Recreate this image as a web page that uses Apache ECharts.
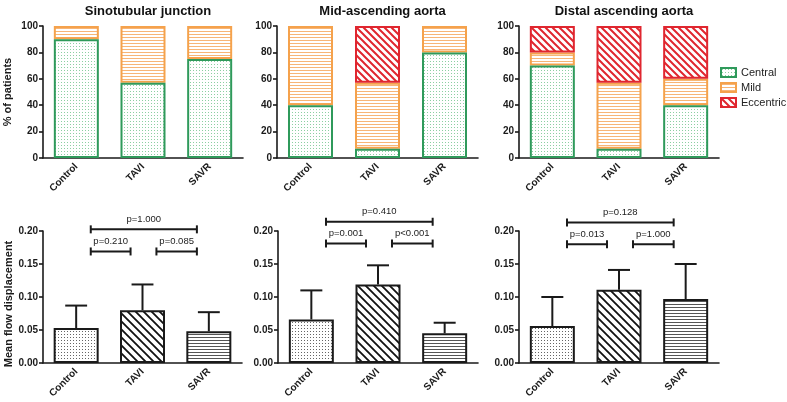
<!DOCTYPE html>
<html><head><meta charset="utf-8">
<script src="https://cdn.jsdelivr.net/npm/echarts@6/dist/echarts.min.js"></script>
<style>html,body{margin:0;padding:0;background:#fff}#c{width:787px;height:402px}</style>
</head><body><div id="c"></div>
<script>
// ---------- data ----------
const categories = ['Control', 'TAVI', 'SAVR'];
const panelTitles = ['Sinotubular junction', 'Mid-ascending aorta', 'Distal ascending aorta'];
const flowTypes = ['Central', 'Mild', 'Eccentric'];
// % of patients (per panel: Control, TAVI, SAVR)
const centralPct = [[90, 57, 75], [40, 7, 80], [70, 7, 40]];
const mildPct = [[10, 43, 25], [60, 50, 20], [10, 50, 20]];
const eccentricPct = [[0, 0, 0], [0, 43, 0], [20, 43, 40]];
const pctTicks = [0, 20, 40, 60, 80, 100];
// mean flow displacement (per panel: Control, TAVI, SAVR)
const meanDisp = [[0.053, 0.080, 0.048], [0.066, 0.119, 0.045], [0.056, 0.111, 0.097]];
const sdDisp = [[0.034, 0.039, 0.029], [0.044, 0.029, 0.016], [0.044, 0.030, 0.053]];
const dispTicks = [0, 0.05, 0.10, 0.15, 0.20];
// significance annotations: [Control-SAVR, Control-TAVI, TAVI-SAVR]
const pValues = [['p=1.000', 'p=0.210', 'p=0.085'], ['p=0.410', 'p=0.001', 'p<0.001'], ['p=0.128', 'p=0.013', 'p=1.000']];
const bracketFrom = [0.22, 0.22, 1.21];
const bracketTo = [1.82, 0.82, 1.82];
const bracketLevel = [[0.2025, 0.169, 0.169], [0.214, 0.181, 0.181], [0.213, 0.180, 0.180]];

// ---------- styling ----------
const FONT = '"Liberation Sans", Arial, sans-serif';
const INK = '#1a1a1a';
const GREEN = '#2f9a5b', ORANGE = '#f5a24c', RED = '#e0262f';

function pattern(kind, color, opts) {
  opts = opts || {};
  const c = document.createElement('canvas');
  const ctx = c.getContext('2d');
  if (kind === 'dots') {
    c.width = opts.w || 3; c.height = opts.h || 3;
    ctx.fillStyle = '#fff'; ctx.fillRect(0, 0, c.width, c.height);
    ctx.fillStyle = color; ctx.fillRect(1, 1, 1, 1);
  } else if (kind === 'hlines') {
    c.width = 4; c.height = opts.h || 3;
    ctx.fillStyle = '#fff'; ctx.fillRect(0, 0, c.width, c.height);
    ctx.fillStyle = color; ctx.fillRect(0, 1, 4, 1);
  } else {
    const s = opts.s || 7;
    c.width = s; c.height = s;
    ctx.fillStyle = '#fff'; ctx.fillRect(0, 0, s, s);
    ctx.strokeStyle = color; ctx.lineWidth = opts.lw || 2;
    ctx.beginPath();
    for (let k = -1; k <= 1; k++) {
      ctx.moveTo(k * s - 1, -1);
      ctx.lineTo(k * s + s + 1, s + 1);
    }
    ctx.stroke();
  }
  return { image: c, repeat: 'repeat' };
}

const topStyles = {
  Central: { fill: pattern('dots', '#8ccfa2'), border: GREEN, z: 4 },
  Mild: { fill: pattern('hlines', '#f7b577'), border: ORANGE, z: 2 },
  Eccentric: { fill: pattern('diag', RED, { s: 7, lw: 2 }), border: RED, z: 3 }
};
const topData = { Central: centralPct, Mild: mildPct, Eccentric: eccentricPct };
const bottomFills = [
  pattern('dots', '#666'),
  pattern('diag', '#111', { s: 8, lw: 1.8 }),
  pattern('hlines', '#555')
];

const topGrids = [
  { left: 43, top: 26, width: 200, height: 132 },
  { left: 277, top: 26, width: 201, height: 132 },
  { left: 519, top: 26, width: 200, height: 132 }
];
const bottomGrids = [
  { left: 43, top: 231, width: 199, height: 132 },
  { left: 278, top: 231, width: 200, height: 132 },
  { left: 519, top: 231, width: 200, height: 132 }
];

const grids = topGrids.concat(bottomGrids);
const xAxes = [], yAxes = [], series = [];

grids.forEach((g, i) => {
  xAxes.push({
    type: 'category', gridIndex: i, data: categories,
    axisLine: { lineStyle: { color: INK, width: 1.6 } },
    axisTick: { alignWithLabel: true, length: 4, lineStyle: { color: INK, width: 1.6 } },
    axisLabel: { rotate: 45, fontWeight: 'bold', fontSize: 10, color: INK, fontFamily: FONT, margin: 7 }
  });
  const isTop = i < 3;
  const ticks = isTop ? pctTicks : dispTicks;
  const y = {
    type: 'value', gridIndex: i,
    min: ticks[0], max: ticks[ticks.length - 1], interval: ticks[1] - ticks[0],
    axisLine: { show: true, lineStyle: { color: INK, width: 1.6 } },
    axisTick: { show: true, length: 4, lineStyle: { color: INK, width: 1.6 } },
    splitLine: { show: false },
    axisLabel: {
      fontWeight: 'bold', fontSize: 10, color: INK, fontFamily: FONT, margin: 5,
      formatter: isTop ? (v => String(v)) : (v => v.toFixed(2))
    }
  };
  if (i === 0) {
    y.name = '% of patients';
    y.nameLocation = 'middle';
    y.nameGap = 30;
    y.nameTextStyle = { fontWeight: 'bold', fontSize: 11, color: INK, fontFamily: FONT };
  } else if (i === 3) {
    y.name = 'Mean flow displacement';
    y.nameLocation = 'middle';
    y.nameGap = 27;
    y.nameTextStyle = { fontWeight: 'bold', fontSize: 11, color: INK, fontFamily: FONT, padding: [0, 14, 0, 0] };
  }
  yAxes.push(y);
});

// top stacked bars
for (let p = 0; p < 3; p++) {
  flowTypes.forEach(name => {
    const st = topStyles[name];
    series.push({
      type: 'bar', name, xAxisIndex: p, yAxisIndex: p, stack: 'pct' + p,
      barWidth: 45, z: st.z, silent: true,
      itemStyle: { color: st.fill, borderColor: st.border, borderWidth: 2 },
      data: topData[name][p].map(v => (v > 0 ? v : '-'))
    });
  });
}

// bottom bars + error bars + brackets
for (let p = 0; p < 3; p++) {
  const ax = 3 + p;
  series.push({
    type: 'bar', name: 'disp' + p, xAxisIndex: ax, yAxisIndex: ax, barWidth: 45, silent: true,
    itemStyle: { borderColor: INK, borderWidth: 2 },
    data: meanDisp[p].map((v, i) => ({ value: v, itemStyle: { color: bottomFills[i] } }))
  });
  series.push({
    type: 'custom', name: 'err' + p, xAxisIndex: ax, yAxisIndex: ax, z: 5, silent: true,
    encode: { x: 0, y: [1, 2] },
    data: meanDisp[p].map((v, i) => [i, v, v + sdDisp[p][i]]),
    renderItem(params, api) {
      const x = api.value(0);
      const b = api.coord([x, api.value(1)]);
      const t = api.coord([x, api.value(2)]);
      const hw = api.size([1, 0])[0] * 0.165;
      const ls = { stroke: INK, lineWidth: 2 };
      return {
        type: 'group', children: [
          { type: 'line', shape: { x1: b[0], y1: b[1], x2: t[0], y2: t[1] }, style: ls },
          { type: 'line', shape: { x1: t[0] - hw, y1: t[1], x2: t[0] + hw, y2: t[1] }, style: ls }
        ]
      };
    }
  });
  series.push({
    type: 'custom', name: 'sig' + p, xAxisIndex: ax, yAxisIndex: ax, z: 5, silent: true, clip: false,
    encode: { x: 0, y: 1 },
    data: bracketLevel[p].map(v => [0, v]),
    renderItem(params, api) {
      const k = params.dataIndex;
      const yv = api.value(1);
      const c0 = api.coord([0, yv]);
      const c1 = api.coord([1, yv]);
      const step = c1[0] - c0[0];
      const xa = c0[0] + step * bracketFrom[k];
      const xb = c0[0] + step * bracketTo[k];
      const yy = c0[1];
      const ls = { stroke: INK, lineWidth: 2 };
      return {
        type: 'group', children: [
          { type: 'line', shape: { x1: xa, y1: yy, x2: xb, y2: yy }, style: ls },
          { type: 'line', shape: { x1: xa, y1: yy - 4, x2: xa, y2: yy + 4 }, style: ls },
          { type: 'line', shape: { x1: xb, y1: yy - 4, x2: xb, y2: yy + 4 }, style: ls },
          { type: 'text', style: { text: pValues[p][k], x: (xa + xb) / 2, y: yy - 10, fill: '#222', fontSize: 9.5, fontFamily: FONT, align: 'center', verticalAlign: 'middle' } }
        ]
      };
    }
  });
}

const titles = topGrids.map((g, i) => ({
  text: panelTitles[i], left: g.left + g.width / 2, top: 0, textAlign: 'center',
  textStyle: { fontSize: 13, fontWeight: 'bold', color: '#111', fontFamily: FONT }
}));

const chart = echarts.init(document.getElementById('c'), null, { renderer: 'canvas' });
chart.setOption({
  animation: false,
  backgroundColor: '#fff',
  title: titles,
  legend: {
    data: flowTypes, orient: 'vertical', left: 720, top: 67, padding: 0,
    itemWidth: 15, itemHeight: 9, itemGap: 4, icon: 'rect', selectedMode: false,
    textStyle: { fontSize: 11, color: '#222', fontFamily: FONT }
  },
  grid: grids,
  xAxis: xAxes,
  yAxis: yAxes,
  series
});
</script>
</body></html>
